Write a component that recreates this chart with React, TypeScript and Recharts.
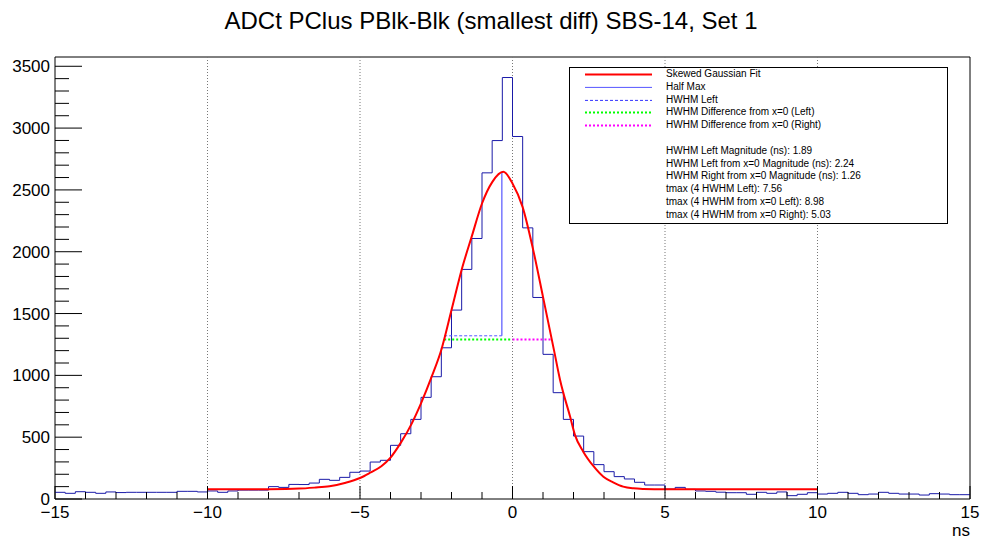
import { ComposedChart, Line, XAxis, YAxis, ReferenceLine, ReferenceArea } from 'recharts'

// histogram: 90 bins of 1/3 ns from -15 to 15
const BIN_LOW = -15
const BIN_WIDTH = 1 / 3
const COUNTS = [
  54, 46, 59, 54, 46, 57, 52, 54, 54, 54, 54, 54, 62, 62, 57,
  65, 54, 65, 72, 72, 72, 100, 94, 118, 117, 129, 159, 151, 175, 216,
  226, 299, 313, 434, 528, 644, 822, 989, 1223, 1528, 1857, 2107, 2638, 2899, 3409,
  2932, 2193, 1630, 1170, 860, 644, 509, 383, 278, 221, 181, 162, 135, 113, 113,
  80, 94, 78, 65, 62, 55, 51, 51, 38, 54, 46, 57, 27, 38, 51,
  40, 46, 54, 46, 35, 40, 54, 46, 40, 40, 32, 43, 40, 35, 35,
]

// skewed gaussian fit
const FIT_X = [-10, -9, -8, -7, -6.5, -6, -5.5, -5, -4.65, -4.3, -4, -3.65, -3.3, -3, -2.65, -2.32, -2, -1.64, -1.34, -1, -0.66, -0.3, 0, 0.33, 0.68, 1, 1.36, 1.56, 1.89, 2.05, 2.32, 2.65, 2.98, 3.3, 3.63, 3.96, 4.3, 5, 6, 8, 10]
const FIT_Y = [78, 78, 79, 84, 92, 103, 130, 170, 215, 265, 335, 460, 612, 773, 989, 1218, 1528, 1878, 2120, 2390, 2565, 2646, 2552, 2363, 2013, 1635, 1204, 962, 665, 517, 383, 267, 180, 135, 100, 86, 81, 78, 78, 78, 78]

const PEAK_X = -0.35
const PEAK_Y = 2646
const HALF_MAX = 1320
const DIFF_Y = 1291
const HWHM_LEFT_X = -2.24
const HWHM_RIGHT_X = 1.26

const X_MAJOR = [-15, -10, -5, 0, 5, 10, 15]
const X_GRID = [-10, -5, 0, 5, 10]
const X_TICKS = Array.from({ length: 31 }, (_, i) => i - 15)
const Y_TICKS = Array.from({ length: 36 }, (_, i) => i * 100)

const LEGEND_ITEMS = [
  { label: 'Skewed Gaussian Fit', color: '#ff0000', width: 2, dash: '' },
  { label: 'Half Max', color: '#5555ff', width: 1, dash: '' },
  { label: 'HWHM Left', color: '#3333ff', width: 1, dash: '3 2' },
  { label: 'HWHM Difference from x=0 (Left)', color: '#00ff00', width: 2, dash: '2 2' },
  { label: 'HWHM Difference from x=0 (Right)', color: '#ff00ff', width: 2, dash: '2 2' },
]
const LEGEND_NOTES = [
  'HWHM Left Magnitude (ns): 1.89',
  'HWHM Left from x=0 Magnitude (ns): 2.24',
  'HWHM Right from x=0 Magnitude (ns): 1.26',
  'tmax (4 HWHM Left): 7.56',
  'tmax (4 HWHM from x=0 Left): 8.98',
  'tmax (4 HWHM from x=0 Right): 5.03',
]

const FONT = '"Liberation Sans", Arial, Helvetica, sans-serif'

const histData = [
  ...COUNTS.map((v, i) => ({ x: BIN_LOW + i * BIN_WIDTH, v })),
  { x: BIN_LOW + COUNTS.length * BIN_WIDTH, v: COUNTS[COUNTS.length - 1] },
]
const fitData = FIT_X.map((x, i) => ({ x, v: FIT_Y[i] }))
const halfMaxData = [{ x: PEAK_X, v: HALF_MAX }, { x: PEAK_X, v: PEAK_Y }]
const hwhmLeftData = [{ x: HWHM_LEFT_X, v: HALF_MAX }, { x: PEAK_X, v: HALF_MAX }]
const diffLeftData = [{ x: HWHM_LEFT_X, v: DIFF_Y }, { x: 0, v: DIFF_Y }]
const diffRightData = [{ x: 0, v: DIFF_Y }, { x: HWHM_RIGHT_X, v: DIFF_Y }]

const renderXTick = (props: any) => {
  const { x, y, payload } = props
  const major = X_MAJOR.includes(payload.value)
  const label = payload.value < 0 ? `\u2212${Math.abs(payload.value)}` : `${payload.value}`
  return (
    <g key={`xt-${payload.value}`}>
      <line x1={x} x2={x} y1={y} y2={y - (major ? 13 : 7)} stroke="#000" />
      {major && (
        <text x={x} y={y + 19} textAnchor="middle" fontSize={17} fontFamily={FONT} fill="#000">
          {label}
        </text>
      )}
    </g>
  )
}

const renderYTick = (props: any) => {
  const { x, y, payload } = props
  const major = payload.value % 500 === 0
  return (
    <g key={`yt-${payload.value}`}>
      <line x1={x} x2={x + (major ? 27 : 14)} y1={y} y2={y} stroke="#000" />
      {major && (
        <text x={x - 5} y={y + 6} textAnchor="end" fontSize={17} fontFamily={FONT} fill="#000">
          {payload.value}
        </text>
      )}
    </g>
  )
}

function LegendBox() {
  return (
    <div
      style={{
        position: 'absolute',
        left: 569,
        top: 67,
        width: 377,
        height: 155,
        border: '1px solid #000',
        background: '#fff',
        fontFamily: FONT,
        fontSize: 10,
        color: '#000',
      }}
    >
      {LEGEND_ITEMS.map((item) => (
        <div key={item.label} style={{ height: 12.8, lineHeight: '12.8px', position: 'relative', whiteSpace: 'nowrap' }}>
          <svg width={70} height={12.8} style={{ position: 'absolute', left: 14, top: 0 }}>
            <line x1={1} x2={68} y1={6.4} y2={6.4} stroke={item.color} strokeWidth={item.width} strokeDasharray={item.dash || undefined} />
          </svg>
          <span style={{ position: 'absolute', left: 96 }}>{item.label}</span>
        </div>
      ))}
      <div style={{ height: 12.8 }} />
      {LEGEND_NOTES.map((note) => (
        <div key={note} style={{ height: 12.8, lineHeight: '12.8px', paddingLeft: 96, whiteSpace: 'nowrap' }}>
          {note}
        </div>
      ))}
    </div>
  )
}

export default function App() {
  return (
    <div style={{ position: 'absolute', left: 0, top: 0, width: 982, height: 542, background: '#fff' }}>
      <div
        style={{
          position: 'absolute',
          left: 0,
          width: 982,
          top: 7,
          textAlign: 'center',
          fontFamily: FONT,
          fontSize: 24,
          color: '#000',
        }}
      >
        ADCt PClus PBlk-Blk (smallest diff) SBS-14, Set 1
      </div>
      <ComposedChart width={982} height={542} margin={{ top: 57, right: 12, bottom: 13, left: 5 }}>
        <XAxis
          type="number"
          dataKey="x"
          domain={[-15, 15]}
          ticks={X_TICKS}
          interval={0}
          tick={renderXTick}
          tickSize={0}
          tickMargin={0}
          tickLine={false}
          axisLine={false}
          height={30}
          allowDataOverflow
        />
        <YAxis
          type="number"
          domain={[0, 3575]}
          ticks={Y_TICKS}
          interval={0}
          tick={renderYTick}
          tickSize={0}
          tickMargin={0}
          tickLine={false}
          axisLine={false}
          width={50}
          allowDataOverflow
        />
        {X_GRID.map((g) => (
          <ReferenceLine key={g} x={g} stroke="#777" strokeDasharray="1 2" />
        ))}
        <ReferenceArea x1={-15} x2={15} y1={0} y2={3575} fill="none" stroke="#000" strokeWidth={1} />
        <Line data={histData} dataKey="v" type="stepAfter" stroke="#1a1aa8" strokeWidth={1} dot={false} isAnimationActive={false} />
        <Line data={halfMaxData} dataKey="v" type="linear" stroke="#7777ff" strokeWidth={1.5} dot={false} isAnimationActive={false} />
        <Line data={hwhmLeftData} dataKey="v" type="linear" stroke="#5555ff" strokeWidth={1} strokeDasharray="3 2" dot={false} isAnimationActive={false} />
        <Line data={diffLeftData} dataKey="v" type="linear" stroke="#00ff00" strokeWidth={2} strokeDasharray="2 2" dot={false} isAnimationActive={false} />
        <Line data={diffRightData} dataKey="v" type="linear" stroke="#ff00ff" strokeWidth={2} strokeDasharray="2 2" dot={false} isAnimationActive={false} />
        <Line data={fitData} dataKey="v" type="monotone" stroke="#ff0000" strokeWidth={2} dot={false} isAnimationActive={false} />
      </ComposedChart>
      <LegendBox />
      <div
        style={{
          position: 'absolute',
          right: 12,
          top: 521,
          fontFamily: FONT,
          fontSize: 17,
          color: '#000',
        }}
      >
        ns
      </div>
    </div>
  )
}
